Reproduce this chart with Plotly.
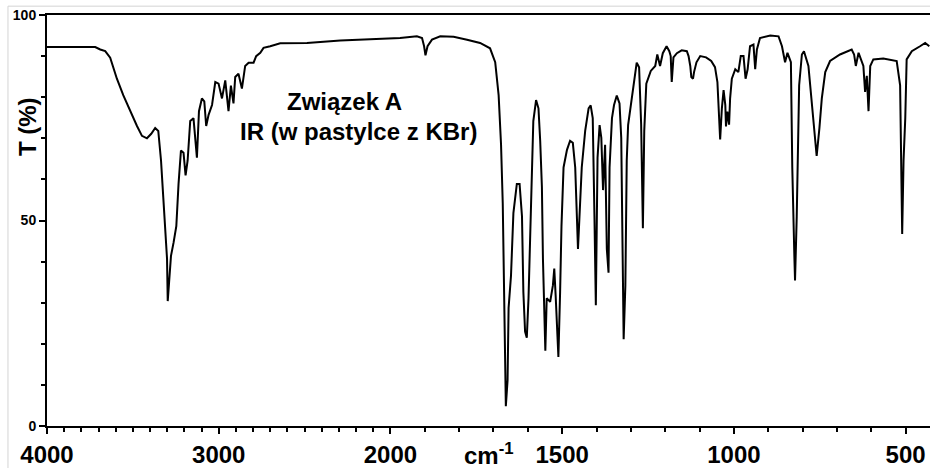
import plotly.graph_objects as go

# IR spectrum of "Związek A" (KBr pellet): wavenumber (cm-1) and transmittance (%)
wavenumber = [
    4000, 3719, 3690, 3661, 3632, 3593, 3556, 3515, 3476, 3447,
    3418, 3393, 3370, 3352, 3336, 3323, 3311, 3301, 3297, 3286,
    3278, 3263, 3247, 3234, 3220, 3205, 3193, 3181, 3166, 3147,
    3127, 3115, 3098, 3084, 3073, 3059, 3039, 3020, 3001, 2981,
    2962, 2943, 2929, 2914, 2904, 2885, 2865, 2846, 2826, 2797,
    2782, 2758, 2739, 2700, 2642, 2486, 2292, 2118, 1972, 1923,
    1908, 1902, 1898, 1892, 1879, 1855, 1816, 1777, 1739, 1710,
    1695, 1685, 1678, 1673, 1669, 1666, 1664, 1659, 1656, 1649,
    1642, 1632, 1624, 1617, 1613, 1608, 1603, 1598, 1593, 1588,
    1584, 1576, 1569, 1564, 1559, 1556, 1552, 1549, 1545, 1535,
    1527, 1523, 1519, 1515, 1511, 1506, 1502, 1496, 1486, 1477,
    1469, 1462, 1457, 1454, 1450, 1443, 1433, 1423, 1417, 1411,
    1406, 1402, 1397, 1391, 1386, 1381, 1375, 1370, 1365, 1362,
    1355, 1349, 1341, 1333, 1328, 1323, 1321, 1316, 1312, 1308,
    1297, 1292, 1283, 1276, 1270, 1265, 1261, 1255, 1242, 1229,
    1223, 1215, 1207, 1196, 1188, 1184, 1181, 1176, 1166, 1152,
    1137, 1132, 1127, 1124, 1119, 1116, 1109, 1098, 1081, 1066,
    1055, 1048, 1045, 1040, 1035, 1030, 1025, 1023, 1019, 1014,
    1011, 1006, 996, 987, 980, 972, 966, 960, 953, 943,
    938, 933, 924, 894, 870, 860, 851, 844, 834, 830,
    824, 822, 817, 810, 802, 796, 783, 773, 766, 759,
    751, 744, 734, 720, 691, 657, 650, 645, 637, 623,
    618, 613, 608, 603, 594, 565, 526, 516, 513, 510,
    506, 501, 497, 482, 458, 443, 431,
]
transmittance = [
    92.2, 92.2, 91.6, 91.2, 89.6, 84.5, 80.5, 76.6, 73.0, 70.6,
    70.0, 71.1, 72.5, 71.8, 64.6, 55.7, 48.6, 40.7, 30.4, 37.4,
    41.4, 44.6, 48.6, 58.9, 67.0, 66.5, 61.0, 64.6, 74.2, 74.9,
    65.3, 76.6, 79.7, 79.0, 73.0, 75.7, 78.1, 83.7, 83.3, 79.7,
    84.1, 76.6, 82.8, 78.5, 84.9, 85.7, 82.1, 87.6, 88.4, 88.4,
    90.0, 90.8, 92.0, 92.4, 93.1, 93.2, 93.8, 94.1, 94.4, 94.8,
    94.4, 92.4, 90.2, 92.4, 94.0, 94.8, 94.7, 94.0, 93.2, 91.9,
    88.5, 80.5, 68.5, 54.2, 31.1, 16.8, 4.8, 11.1, 28.7, 36.6,
    51.8, 58.9, 58.9, 51.0, 32.6, 23.0, 21.5, 31.1, 47.0, 58.1,
    74.2, 79.3, 77.3, 69.4, 58.1, 40.7, 24.6, 18.3, 31.1, 30.2,
    34.2, 38.3, 31.8, 24.6, 16.8, 32.6, 48.6, 62.9, 67.2, 69.4,
    68.9, 62.9, 51.0, 43.1, 50.2, 62.9, 71.8, 77.3, 78.0, 74.9,
    51.0, 29.4, 65.3, 73.2, 70.1, 57.4, 68.4, 43.1, 37.3, 62.9,
    74.9, 78.1, 80.4, 78.5, 70.1, 40.7, 21.1, 34.2, 64.6, 73.2,
    80.5, 83.7, 88.4, 87.3, 73.3, 48.1, 71.8, 83.3, 86.4, 87.6,
    90.4, 87.6, 90.7, 92.4, 91.2, 90.0, 83.7, 89.7, 90.7, 91.4,
    91.2, 90.0, 87.6, 84.9, 84.5, 86.1, 88.5, 90.0, 89.7, 88.8,
    87.3, 83.7, 76.9, 69.7, 77.3, 81.7, 78.1, 72.9, 76.5, 73.3,
    79.7, 84.5, 86.8, 86.1, 90.0, 90.0, 84.5, 86.8, 92.4, 92.8,
    86.8, 91.6, 94.4, 95.0, 94.8, 92.4, 88.5, 90.8, 88.5, 62.9,
    41.4, 35.4, 51.0, 82.9, 90.4, 91.2, 87.6, 78.1, 72.5, 65.7,
    72.5, 79.7, 86.1, 88.8, 90.4, 91.6, 90.4, 87.6, 90.8, 87.6,
    81.3, 85.2, 76.6, 87.6, 89.2, 89.4, 88.8, 82.9, 64.6, 46.7,
    64.6, 74.9, 89.2, 91.2, 92.4, 93.2, 92.4,
]

x_labels = [4000, 3000, 2000, 1500, 1000, 500]
y_labels = [0, 50, 100]
x_end = 429  # spectrum runs off the right edge here


def axis_pos(nu):
    """Scale change at 2000 cm-1: above it the axis is compressed 2:1."""
    return (4000 - nu) / 2 if nu >= 2000 else 3000 - nu


xs = [axis_pos(v) for v in wavenumber]

major_vals = [axis_pos(v) for v in x_labels]
major_text = [str(v) for v in x_labels]
minor_vals = [axis_pos(v) for v in range(3900, 400, -100) if v not in x_labels]

FONT = "Liberation Sans, Arial, sans-serif"

fig = go.Figure(
    go.Scatter(x=xs, y=transmittance, mode="lines",
               line=dict(color="black", width=2), hoverinfo="skip")
)

fig.update_layout(
    width=930, height=468,
    margin=dict(l=47, r=0, t=15, b=35),
    paper_bgcolor="white", plot_bgcolor="white",
    showlegend=False,
    font=dict(family=FONT, color="black"),
)

fig.update_xaxes(
    range=[0, axis_pos(x_end)],
    tickmode="array", tickvals=major_vals, ticktext=major_text,
    ticks="outside", ticklen=6, tickwidth=2, tickcolor="black",
    tickfont=dict(family=FONT, size=24, weight="bold"),
    showline=True, linecolor="black", linewidth=2, mirror=True,
    showgrid=False, zeroline=False,
    minor=dict(tickmode="array", tickvals=minor_vals, ticks="outside",
               ticklen=4, tickwidth=1.5, tickcolor="black", showgrid=False),
)

fig.update_yaxes(
    range=[0, 100],
    tickmode="array", tickvals=y_labels, ticktext=[str(v) for v in y_labels],
    ticks="outside", ticklen=6, tickwidth=2, tickcolor="black",
    tickfont=dict(family=FONT, size=14, weight="bold"),
    showline=True, linecolor="black", linewidth=2,
    showgrid=False, zeroline=False,
    minor=dict(dtick=10, ticks="outside", ticklen=4, tickwidth=1.5,
               tickcolor="black", showgrid=False),
)

# thin grey frame around the picture
fig.add_shape(type="rect", xref="paper", yref="paper",
              x0=-0.0442, x1=1.2, y0=-0.3, y1=1.0215,
              line=dict(color="#d4d4d4", width=1), layer="below")

bold24 = dict(family=FONT, size=24, color="black", weight="bold")
fig.add_annotation(text="Związek A", xref="paper", yref="paper",
                   x=0.2695, y=0.7895, xanchor="left", yanchor="middle",
                   showarrow=False, font=bold24)
fig.add_annotation(text="IR (w pastylce z KBr)", xref="paper", yref="paper",
                   x=0.2163, y=0.7177, xanchor="left", yanchor="middle",
                   showarrow=False, font=bold24)
fig.add_annotation(text="cm<sup>-1</sup>", xref="paper", yref="paper",
                   x=0.470, y=-0.069, xanchor="left", yanchor="middle",
                   showarrow=False, font=bold24)
fig.add_annotation(text="T (%)", xref="paper", yref="paper",
                   x=-0.0227, y=0.7297, xanchor="center", yanchor="middle",
                   textangle=-90, showarrow=False, font=bold24)

fig.write_html("out.html")
